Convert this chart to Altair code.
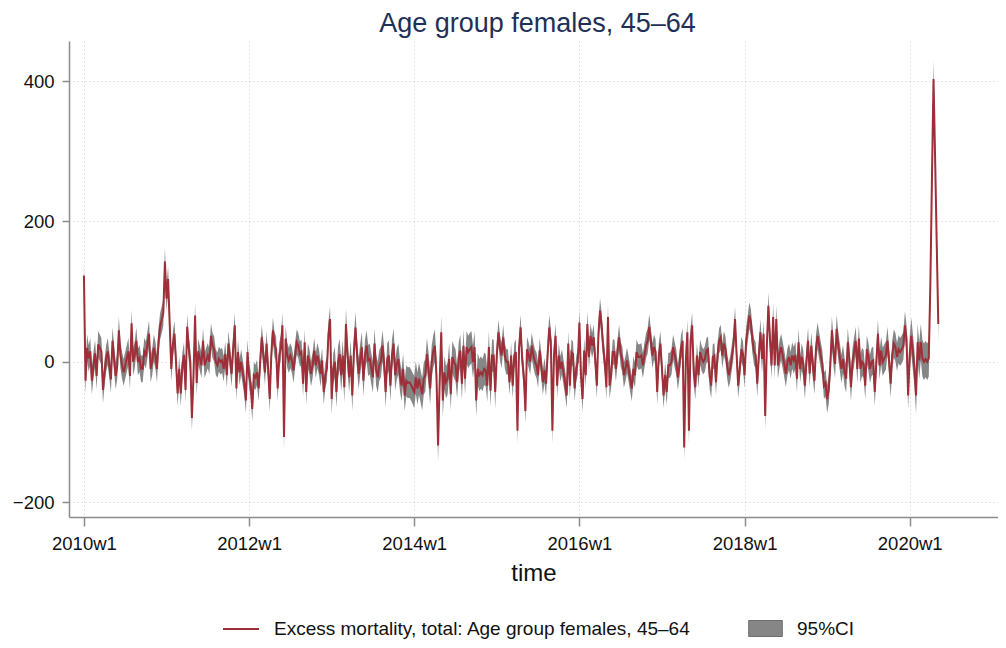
import altair as alt
import pandas as pd

# Weekly excess mortality (weeks 1..52 of each year)
exc_2010 = [123, -27, 20, 5, 15, -27, -5, 12, -20, 25,
            20, 15, -40, -15, 5, 15, -5, -25, 30, 5,
            -20, -5, 45, 10, -5, -15, -5, 5, 15, -20,
            55, 0, 10, 30, 0, 5, -10, -10, 15, 10,
            25, 40, -10, 0, 20, 10, -10, 30, 51, 60,
            70, 143]
exc_2011 = [90, 118, 55, -10, 25, 40, 0, -45, -10, -45,
            -5, 10, -40, 50, 20, 0, -80, -20, 66, -30,
            15, 5, -5, 30, -5, 2, 9, 0, 37, 23,
            18, 0, -5, 4, 0, 2, -10, 11, -19, 26,
            5, -17, 20, 52, -38, 14, -15, 0, -15, -30,
            -55, 14]
exc_2012 = [-20, -31, -67, -19, -22, -15, -38, 0, 35, 10,
            -15, 26, -10, -53, 10, 45, 25, 18, -38, 9,
            20, 52, -107, 33, 10, 2, 9, 2, -12, 10,
            28, 23, 11, 14, -31, 28, -43, 9, 0, -17,
            -5, 16, -5, 9, 0, -17, 2, -43, -20, -10,
            40, 61]
exc_2013 = [-53, -10, 0, -43, 0, 11, -19, 9, -36, 54,
            10, -22, 9, -48, 14, 49, 10, -17, 4, 21,
            -27, 10, 23, 2, 4, -10, -22, 26, -12, -22,
            -5, 0, 23, 0, -43, 4, 9, -34, 10, 26,
            -19, -3, 4, -20, -34, -10, -48, -27, -30, -29,
            -33, -38]
exc_2014 = [-43, -22, -38, -24, -35, -46, -24, -19, 11, -10,
            -38, 0, 15, 23, -19, -119, -30, 42, -55, -15,
            -29, -24, 4, -46, 7, 0, -5, -29, 5, 16,
            -31, 23, -24, 21, 14, 18, 21, 0, 21, -55,
            -10, -19, -15, -19, -10, -12, -34, 21, -41, 9,
            9, -43]
exc_2015 = [10, 42, 20, 9, 35, 9, 0, 0, -29, 9,
            -34, 9, 14, -98, 20, 49, 2, -20, -70, 18,
            10, 0, 23, 10, 0, -5, -19, 16, -5, -29,
            -12, -31, 11, 49, 30, -98, 10, 37, -34, 9,
            -10, 0, -15, -30, -48, 26, -34, 14, 11, -38,
            -10, 0]
exc_2016 = [56, -20, -53, 16, -19, 54, 7, 37, 23, 35,
            2, -34, 40, 73, 52, 20, 0, -36, 64, -34,
            -19, 14, 14, -10, 15, 35, 11, 4, -19, -10,
            2, -10, -25, -38, -10, -19, 14, 7, 7, 9,
            -5, 10, 23, 30, 50, 30, 9, 21, 14, -43,
            9, 26]
exc_2017 = [-10, -48, -19, -43, -5, -5, 0, 21, 10, 0,
            -22, -5, 20, 30, -122, 0, 42, -98, 30, 52,
            -15, -36, 9, -19, 14, 5, 0, 4, 16, 18,
            -20, -34, 7, 9, -29, 10, 30, 35, 9, 26,
            18, -5, -19, -10, 7, 23, 61, 10, -34, -10,
            18, 11]
exc_2018 = [-19, 30, 47, 66, 56, 30, 14, 9, -31, 10,
            42, 4, 40, -77, 20, 80, 33, -5, 64, -5,
            61, -5, 11, 21, 10, -3, -17, 0, 7, -5,
            9, 2, 10, -24, 28, -10, 7, -3, -34, 2,
            30, -17, 23, -5, -27, 20, 37, 23, 9, -3,
            -34, -30]
exc_2019 = [-53, -40, -5, 45, 14, -3, 47, 23, 7, -10,
            4, -15, -24, 28, 4, -36, 0, 15, 30, -10,
            33, -10, 0, -3, -34, 18, 7, -10, 0, 2,
            -43, 0, 40, -5, 16, 0, 5, 9, 30, 2,
            -31, 10, 26, 21, 7, 18, 14, 18, 23, 52,
            33, -48]
exc_2020 = [10, 37, 14, -10, -48, 28, 2, 28, 5, 0,
            4, 0, 5, 110, 260, 403, 290, 170, 54]

years = [2010, 2011, 2012, 2013, 2014, 2015, 2016, 2017, 2018, 2019, 2020]
series = [exc_2010, exc_2011, exc_2012, exc_2013, exc_2014, exc_2015,
          exc_2016, exc_2017, exc_2018, exc_2019, exc_2020]
# half-width of the 95% confidence band, per year
ci_halfwidth = [19, 18, 18, 22, 23, 18, 18, 18, 19, 20, 26]

tick_weeks = [0, 104, 208, 312, 416, 520]
y_ticks = [-200, 0, 200, 400]

LINE_LABEL = "Excess mortality, total: Age group females, 45–64"
CI_LABEL = "95%CI"
RED = "#9e2f38"
GREY = "#868686"

rows = []
for yi, (yr, vals) in enumerate(zip(years, series)):
    for wk, v in enumerate(vals):
        rows.append({
            "t": (yr - 2010) * 52 + wk,
            "excess": v,
            "lo": v - ci_halfwidth[yi],
            "hi": v + ci_halfwidth[yi],
            "series": LINE_LABEL,
            "ci": CI_LABEL,
        })
df = pd.DataFrame(rows)

x_enc = alt.X(
    "t:Q",
    scale=alt.Scale(domain=[-9.4, 575.6], nice=False, zero=False),
    axis=alt.Axis(
        values=tick_weeks,
        labelExpr="(2010 + round(datum.value / 52)) + 'w1'",
        title="time",
        tickSize=9,
        labelPadding=8,
        titlePadding=9,
        titleFontSize=24,
        titleFontWeight="normal",
        grid=True,
    ),
)
y_scale = alt.Scale(domain=[-221, 457], nice=False, zero=False)
y_axis = alt.Axis(values=y_ticks, title=None, tickSize=7, labelPadding=8, grid=True)

band = alt.Chart(df).mark_area(opacity=1).encode(
    x=x_enc,
    y=alt.Y("lo:Q", scale=y_scale, axis=y_axis),
    y2="hi:Q",
    fill=alt.Fill(
        "ci:N",
        scale=alt.Scale(domain=[CI_LABEL], range=[GREY]),
        legend=alt.Legend(
            title=None,
            orient="none",
            legendX=687,
            legendY=578,
            direction="horizontal",
            symbolType="M-2.1,-1H2.1V1H-2.1Z",
            symbolSize=256,
            symbolStrokeColor="#6e6e6e",
            symbolStrokeWidth=1,
            labelFontSize=19,
            labelOffset=22,
            labelLimit=0,
        ),
    ),
)

line = alt.Chart(df).mark_line(strokeWidth=2).encode(
    x=x_enc,
    y=alt.Y("excess:Q", scale=y_scale, axis=y_axis),
    color=alt.Color(
        "series:N",
        scale=alt.Scale(domain=[LINE_LABEL], range=[RED]),
        legend=alt.Legend(
            title=None,
            orient="none",
            legendX=162,
            legendY=578,
            direction="horizontal",
            symbolType="M-2,0H2",
            symbolSize=324,
            symbolStrokeWidth=2,
            symbolFillColor="transparent",
            labelFontSize=19,
            labelOffset=23,
            labelLimit=0,
        ),
    ),
)

chart = alt.layer(band, line).properties(
    width=929,
    height=476,
    padding={"left": 4, "top": 2, "right": 0, "bottom": 0},
    title=alt.TitleParams(
        "Age group females, 45–64",
        fontSize=27,
        fontWeight="normal",
        color="#1f3057",
        anchor="middle",
        offset=3,
        dx=4,
    ),
).configure(
    font="Liberation Sans",
).configure_view(
    stroke=None,
).configure_axis(
    domainColor="#8c8c8c",
    domainWidth=1.5,
    tickColor="#8c8c8c",
    tickWidth=1.5,
    labelColor="#111111",
    labelFontSize=18.5,
    titleColor="#111111",
    gridColor="#c8c8c8",
    gridDash=[1, 3],
    gridWidth=1,
).configure_legend(
    labelColor="#111111",
)

chart.save("out.html", embed_options={"renderer": "svg", "actions": False})
